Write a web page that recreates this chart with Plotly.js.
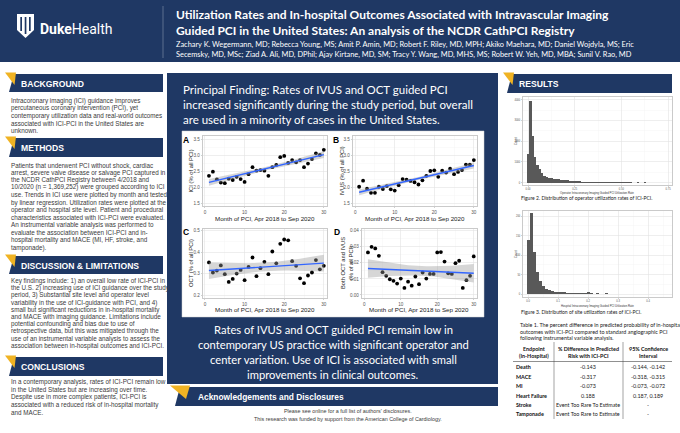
<!DOCTYPE html>
<html><head><meta charset="utf-8">
<script src="https://cdn.plot.ly/plotly-3.0.1.min.js"></script>
<style>html,body{margin:0;padding:0;background:#fff;}#chart{width:680px;height:433px;}</style>
</head><body><div id="chart"></div>
<script>
// ---------------- DATA ----------------
const months = [1,2,3,4,5,6,7,8,9,10,11,12,13,14,15,16,17,18,19,20,21,22,23,24,25,26,27,28,29,30];
const iciPct  = [2.36,2.49,2.25,2.15,2.13,2.27,2.23,2.33,2.26,2.17,2.41,2.63,2.52,2.54,2.52,2.36,2.63,2.70,2.94,2.98,2.76,2.85,2.78,2.85,2.63,2.74,2.88,3.06,3.01,3.17];
const ivusPct = [2.02,2.21,1.96,1.83,1.83,2.02,1.95,2.04,1.94,1.90,2.07,2.26,2.24,2.20,2.16,2.09,2.22,2.36,2.51,2.53,2.33,2.52,2.46,2.58,2.41,2.48,2.54,2.71,2.71,2.85];
const octPct  = [0.352,0.305,0.314,0.338,0.297,0.261,0.275,0.300,0.317,0.269,0.331,0.375,0.288,0.325,0.355,0.297,0.403,0.348,0.439,0.459,0.455,0.358,0.336,0.278,0.255,0.291,0.305,0.363,0.320,0.336];
const bothPct = [0.0265,0.0300,0.0290,0.0244,0.0142,0.0119,0.0098,0.0088,0.0071,0.0102,0.0044,0.0083,0.0058,0.0115,0.0067,0.0140,0.0102,0.0131,0.0131,0.0265,0.0267,0.0208,0.0135,0.0131,0.0198,0.0213,0.0044,0.0092,0.0119,0.0240];

const operatorBinWidth = 0.0125;
const operatorCounts = [1370,3920,2230,1260,850,650,480,320,290,240,210,190,175,160,140,125,110,105,95,85,80,70,65,55,50,45,45,38,35,30,28,25,30,22,20,18,15,20,14,12,10,12,9,8,10,7,6,8,5,6,35,5,4,3,5,3,2,3,2,4];
const siteBinWidth = 0.01;
const siteCounts = [138,207,107,58,34,21,14,10,8,7,6,5,5,4,3,4,3,2,3,2,5,2,1,2,1,1,2,1,1,1,0,1,1,0,1,0,0,1,0,0,1,0,0,0,1,1];

const panelLetters = ["A","B","C","D"];
const yTitles = ["ICI (% of all PCI)","IVUS (% of all PCI)","OCT (% of all PCI)","Both OCT and IVUS<br>(% of all PCI)"];
const xTitle = "Month of PCI, Apr 2018 to Sep 2020";

const titleLines = ["Utilization Rates and In-hospital Outcomes Associated with Intravascular Imaging",
  "Guided PCI in the United States: An analysis of the NCDR CathPCI Registry"];
const authorLines = ["Zachary K. Wegermann, MD; Rebecca Young, MS; Amit P. Amin, MD; Robert F. Riley, MD, MPH; Akiko Maehara, MD; Daniel Wojdyla, MS; Eric",
  "Secemsky, MD, MSc; Ziad A. Ali, MD, DPhil; Ajay Kirtane, MD, SM; Tracy Y. Wang, MD, MHS, MS; Robert W. Yeh, MD, MBA; Sunil V. Rao, MD"];
const backgroundLines = ["Intracoronary imaging (ICI) guidance improves","percutaneous coronary intervention (PCI), yet",
  "contemporary utilization data and real-world outcomes","associated with ICI-PCI in the United States are","unknown."];
const methodsLines = ["Patients that underwent PCI without shock, cardiac","arrest, severe valve disease or salvage PCI captured in",
  "the NCDR CathPCI Registry between 4/2018 and","10/2020 (n = 1,369,252) were grouped according to ICI",
  "use. Trends in ICI use were plotted by month and tested","by linear regression. Utilization rates were plotted at the",
  "operator and hospital site level. Patient and procedural","characteristics associated with ICI-PCI were evaluated.",
  "An instrumental variable analysis was performed to","evaluate the association between ICI-PCI and in-",
  "hospital mortality and MACE (MI, HF, stroke, and","tamponade)."];
const discussionLines = ["Key findings include: 1) an overall low rate of ICI-PCI in","the U.S. 2) increasing use of ICI guidance over the study",
  "period, 3) Substantial site level and operator level","variability in the use of ICI-guidance with PCI, and 4)",
  "small but significant reductions in in-hospital mortality","and MACE with imaging guidance. Limitations include",
  "potential confounding and bias due to use of","retrospective data, but this was mitigated through the",
  "use of an instrumental variable analysis to assess the","association between in-hospital outcomes and ICI-PCI."];
const conclusionLines = ["In a contemporary analysis, rates of ICI-PCI remain low","in the United States but are increasing over time.",
  "Despite use in more complex patients, ICI-PCI is","associated with a reduced risk of in-hospital mortality","and MACE."];
const principalLines = ["Principal Finding: Rates of IVUS and OCT guided PCI","increased significantly during the study period, but overall",
  "are used in a minority of cases in the United States."];
const summaryLines = ["Rates of IVUS and OCT guided PCI remain low in","contemporary US practice with significant operator and",
  "center variation. Use of ICI is associated with small","improvements in clinical outcomes."];
const ackLines = ["Please see online for a full list of authors' disclosures.","This research was funded by support from the American College of Cardiology."];
const figureCaptions = ["Figure 2. Distribution of operator utilization rates of ICI-PCI.","Figure 3. Distribution of site utilization rates of ICI-PCI."];
const histXTitles = ["Operator Intracoronary Imaging Guided PCI Utilization Rate","Hospital Intracoronary Imaging Guided PCI Utilization Rate"];
const tableCaption = ["Table 1. The percent difference in predicted probability of in-hospital","outcomes with ICI-PCI compared to standard angiographic PCI","following instrumental variable analysis."];
const tableHeaders = [["Endpoint","(In-Hospital)"],["% Difference in Predicted","Risk with ICI-PCI"],["95% Confidence","Interval"]];
const tableEndpoints = ["Death","MACE","MI","Heart Failure","Stroke","Tamponade"];
const tableDiff = ["-0.143","-0.317","-0.073","0.188","Event Too Rare To Estimate","Event Too Rare to Estimate"];
const tableCI = ["-0.144, -0.142","-0.318, -0.315","-0.073, -0.072","0.187, 0.189","-","-"];

// ---------------- HELPERS ----------------
const W=680,H=433;
const px=x=>x/W, py=y=>1-y/H;
const NAVY='#1f3864', GOLD='#f0b323';
const CAL="Lato, 'Open Sans', sans-serif";
const AR="'Liberation Sans', Arial, sans-serif";
const shapes=[], ann=[];
function rect(x0,y0,x1,y1,fill,lc,lw,layer){shapes.push({type:'rect',xref:'paper',yref:'paper',x0:px(x0),x1:px(x1),y0:py(y1),y1:py(y0),fillcolor:fill||'rgba(0,0,0,0)',line:{color:lc||'rgba(0,0,0,0)',width:lw||0},layer:layer||'below'});}
function poly(pts,fill,layer){shapes.push({type:'path',xref:'paper',yref:'paper',path:'M'+pts.map(p=>px(p[0])+','+py(p[1])).join(' L')+' Z',fillcolor:fill,line:{width:0},layer:layer||'below'});}
function line(x0,y0,x1,y1,c,w,layer){shapes.push({type:'line',xref:'paper',yref:'paper',x0:px(x0),x1:px(x1),y0:py(y0),y1:py(y1),line:{color:c,width:w},layer:layer||'below'});}
function T(text,x,y,o){o=o||{};ann.push({text:text,x:px(x),y:py(y),xref:'paper',yref:'paper',xanchor:o.xa||'left',yanchor:o.ya||'middle',showarrow:false,align:o.align||'left',textangle:o.rot||0,font:{family:o.f||AR,size:o.s||7,color:o.c||'#3a3a3a'},borderpad:0});}
function lines(arr,x,y0,dy,o){arr.forEach((t,i)=>T(t,x,y0+i*dy,o));}
function sectionBar(x0,y0,x1,y1,label){
  poly([[x0+9,y0],[x1,y0],[x1,y1],[x0+4,y1]],NAVY);
  poly([[x0,y0-1.5],[x0+11,y0-1.5],[x0+9.5,y0+11]],GOLD);
  T('<b>'+label+'</b>',x0+15,(y0+y1)/2+0.5,{s:8.6,c:'#fff',f:AR});
}

// ---------------- BACKGROUND LAYOUT ----------------
rect(0,0,680,62,NAVY);
// Duke logo
poly([[17,14],[34,14],[34,30],[25.5,38],[17,30]],'#fff','above');
rect(20.3,17,22,31,NAVY,null,0,'above');
rect(24.7,17,26.4,34,NAVY,null,0,'above');
rect(29,17,30.7,31,NAVY,null,0,'above');
T('<b>Duke</b>Health',39,29,{s:14,c:'#fff',f:"Roboto, 'Open Sans', sans-serif"});
line(163,6,163,58,'rgba(255,255,255,0.35)',0.8);
T('<b>'+titleLines[0]+'</b>',175,15,{s:12,c:'#fff',f:CAL});
T('<b>'+titleLines[1]+'</b>',175,31,{s:12,c:'#fff',f:CAL});
lines(authorLines,175,44,11,{s:7.4,c:'#fff',f:CAL});

// left column
sectionBar(5,74,163,92,'BACKGROUND');
lines(backgroundLines,10,100.5,7.6,{s:6.3});
sectionBar(5,138,163,157,'METHODS');
lines(methodsLines,10,165,7.5,{s:6.3});
sectionBar(5,256,163,274,'DISCUSSION &amp; LIMITATIONS');
lines(discussionLines,10,281,7.2,{s:6.3});
sectionBar(5,357,163,376,'CONCLUSIONS');
lines(conclusionLines,10,382,7.6,{s:6.3});

// middle
rect(167,73,498,384,NAVY);
lines(principalLines,182,89,15.5,{s:11.5,c:'#fff',f:CAL});
rect(182,131,484,317,'#fff','#d0d0d0',0.5);
summaryLines.forEach((t,i)=>T(t,333,329+i*15.3,{s:11.2,c:'#fff',f:CAL,xa:'center'}));
// acknowledgements
poly([[180,387],[498,387],[498,406],[175,406]],NAVY);
poly([[170,385.5],[190,385.5],[186,399]],GOLD);
T('<b>Acknowledgements and Disclosures</b>',197,396.5,{s:8.4,c:'#fff',f:AR});
T(ackLines[0],348,410.5,{s:5.4,xa:'center'});
T(ackLines[1],348,419,{s:5.4,xa:'center'});

// right column
sectionBar(503,74,672,93,'RESULTS');
T(figureCaptions[0],520,197.5,{s:5.0,f:CAL,c:'#222'});
T(figureCaptions[1],520,311.5,{s:5.0,f:CAL,c:'#222'});
lines(tableCaption,519,325,6.7,{s:5.4,f:CAL,c:'#222'});
const colX=[534,588,648];
tableHeaders.forEach((h,i)=>{T('<b>'+h[0]+'</b>',colX[i],349,{s:5.4,f:CAL,c:'#111',xa:'center'});T('<b>'+h[1]+'</b>',colX[i],356,{s:5.4,f:CAL,c:'#111',xa:'center'});});
const rowY=[367,376.5,386,395.5,405,414];
tableEndpoints.forEach((e,i)=>{
  T('<b>'+e+'</b>',515,rowY[i],{s:5.4,f:CAL,c:'#111'});
  T(tableDiff[i],colX[1],rowY[i],{s:5.4,f:CAL,c:'#222',xa:'center'});
  T(tableCI[i],colX[2],rowY[i],{s:5.4,f:CAL,c:'#222',xa:'center'});
});
line(513,361.5,672,361.5,'#444',0.6);
line(554,342,554,419,'#444',0.5);
line(623,342,623,419,'#444',0.5);

// ---------------- REGRESSION (from data) ----------------
function fitBand(x,y){
  const n=x.length, mx=x.reduce((a,b)=>a+b)/n, my=y.reduce((a,b)=>a+b)/n;
  let sxx=0,sxy=0; for(let i=0;i<n;i++){sxx+=(x[i]-mx)**2;sxy+=(x[i]-mx)*(y[i]-my);}
  const b=sxy/sxx,a=my-b*mx; let ss=0; for(let i=0;i<n;i++){ss+=(y[i]-a-b*x[i])**2;}
  const s2=ss/(n-2), t=2.048;
  const fit=x.map(v=>a+b*v), se=x.map(v=>Math.sqrt(s2*(1/n+(v-mx)**2/sxx)));
  return {fit, lo:fit.map((f,i)=>f-t*se[i]), hi:fit.map((f,i)=>f+t*se[i])};
}
const traces=[];
const series=[iciPct,ivusPct,octPct,bothPct];
const axN=['','2','3','4'];
series.forEach((s,k)=>{
  const r=fitBand(months,s), xa='x'+axN[k], ya='y'+axN[k];
  traces.push({type:'scatter',mode:'markers',x:months,y:s,xaxis:xa,yaxis:ya,marker:{color:'#000',size:3.8},hoverinfo:'skip'});
  traces.push({type:'scatter',mode:'lines',x:months.concat(months.slice().reverse()),y:r.hi.concat(r.lo.slice().reverse()),fill:'toself',fillcolor:'rgba(153,153,153,0.4)',line:{width:0},xaxis:xa,yaxis:ya,hoverinfo:'skip'});
  traces.push({type:'scatter',mode:'lines',x:months,y:r.fit,line:{color:'#3366ff',width:1.4},xaxis:xa,yaxis:ya,hoverinfo:'skip'});
});
traces.push({type:'bar',x:operatorCounts.map((c,i)=>i*operatorBinWidth),y:operatorCounts,width:operatorBinWidth,marker:{color:'#595959'},xaxis:'x5',yaxis:'y5',hoverinfo:'skip'});
traces.push({type:'bar',x:siteCounts.map((c,i)=>i*siteBinWidth),y:siteCounts,width:siteBinWidth,marker:{color:'#595959'},xaxis:'x6',yaxis:'y6',hoverinfo:'skip'});

// ---------------- AXES ----------------
function ax(dom,range,tickvals,fmt,anchor,fs,minor){
  return {domain:dom,range:range,tickvals:tickvals,tickformat:fmt,anchor:anchor,showline:true,mirror:true,linecolor:'#b3b3b3',linewidth:0.7,
    showgrid:true,gridcolor:'#e2e2e2',gridwidth:0.6,zeroline:false,ticks:'outside',ticklen:1.5,tickwidth:0.6,tickcolor:'#b3b3b3',
    tickfont:{family:AR,size:fs,color:'#555'},fixedrange:true,minor:minor?{tickvals:minor,showgrid:true,gridcolor:'#f2f2f2',gridwidth:0.4,ticks:''}:undefined};
}
const dX=(a,b)=>[px(a),px(b)], dY=(t,b)=>[py(b),py(t)];
const layout={width:680,height:433,margin:{l:0,r:0,t:0,b:0},paper_bgcolor:'#fff',plot_bgcolor:'#fff',showlegend:false,bargap:0,
  shapes:shapes,annotations:ann,
  xaxis: ax(dX(203,327),[-0.5,30.8],[0,10,20,30],'d','y',4.6,[5,15,25]),
  yaxis: ax(dY(136,206),[1.42,3.6],[1.5,2,2.5,3,3.5],'.1f','x',4.6,[1.75,2.25,2.75,3.25]),
  xaxis2:ax(dX(353,477),[-0.55,30.8],[0,10,20,30],'d','y2',4.6,[5,15,25]),
  yaxis2:ax(dY(136,206),[1.42,3.6],[1.5,2,2.5,3,3.5],'.1f','x2',4.6,[1.75,2.25,2.75,3.25]),
  xaxis3:ax(dX(203,327),[-0.5,30.8],[0,10,20,30],'d','y3',4.6,[5,15,25]),
  yaxis3:ax(dY(229,298),[0.186,0.508],[0.2,0.3,0.4,0.5],'.1f','x3',4.6,[0.25,0.35,0.45]),
  xaxis4:ax(dX(362,477),[-0.63,30.9],[0,10,20,30],'d','y4',4.6,[5,15,25]),
  yaxis4:ax(dY(229,298),[-0.0019,0.0411],[0,0.01,0.02,0.03,0.04],'.2f','x4',4.6,[0.005,0.015,0.025,0.035]),
  xaxis5:ax(dX(523,672),[-0.027,0.771],[0,0.25,0.5,0.75],'.2f','y5',2.6,[0.125,0.375,0.625]),
  yaxis5:ax(dY(97,185),[-113,4130],[0,1000,2000,3000,4000],'d','x5',2.6,[500,1500,2500,3500]),
  xaxis6:ax(dX(523,672),[-0.017,0.48],[0,0.1,0.2,0.3,0.4],'.1f','y6',2.6,[0.05,0.15,0.25,0.35,0.45]),
  yaxis6:ax(dY(211,297),[-7,213],[0,50,100,150,200],'d','x6',2.6,[25,75,125,175])
};
// plot labels
const letterPos=[[186,140],[336,140],[186,232],[337,232]];
panelLetters.forEach((l,i)=>T('<b>'+l+'</b>',letterPos[i][0],letterPos[i][1],{s:8.5,c:'#000',f:AR,xa:'center'}));
const yTitlePos=[[190.5,171],[341.5,171],[190.5,263.5],[346.5,263.5]];
yTitles.forEach((t,i)=>T(t,yTitlePos[i][0],yTitlePos[i][1],{s:5.8,c:'#222',f:AR,rot:-90,xa:'center',align:'center'}));
[[265,218.5],[415,218.5],[265,309],[419,309]].forEach(p=>T(xTitle,p[0],p[1],{s:6.2,c:'#222',f:AR,xa:'center'}));
T(histXTitles[0],597,192.5,{s:2.8,c:'#333',f:AR,xa:'center'});
T(histXTitles[1],597,305.5,{s:2.8,c:'#333',f:AR,xa:'center'});
T('Count',516,141,{s:2.8,c:'#333',f:AR,rot:-90,xa:'center'});
T('Count',516,254,{s:2.8,c:'#333',f:AR,rot:-90,xa:'center'});

Plotly.newPlot('chart',traces,layout,{staticPlot:true,displayModeBar:false});
</script></body></html>
